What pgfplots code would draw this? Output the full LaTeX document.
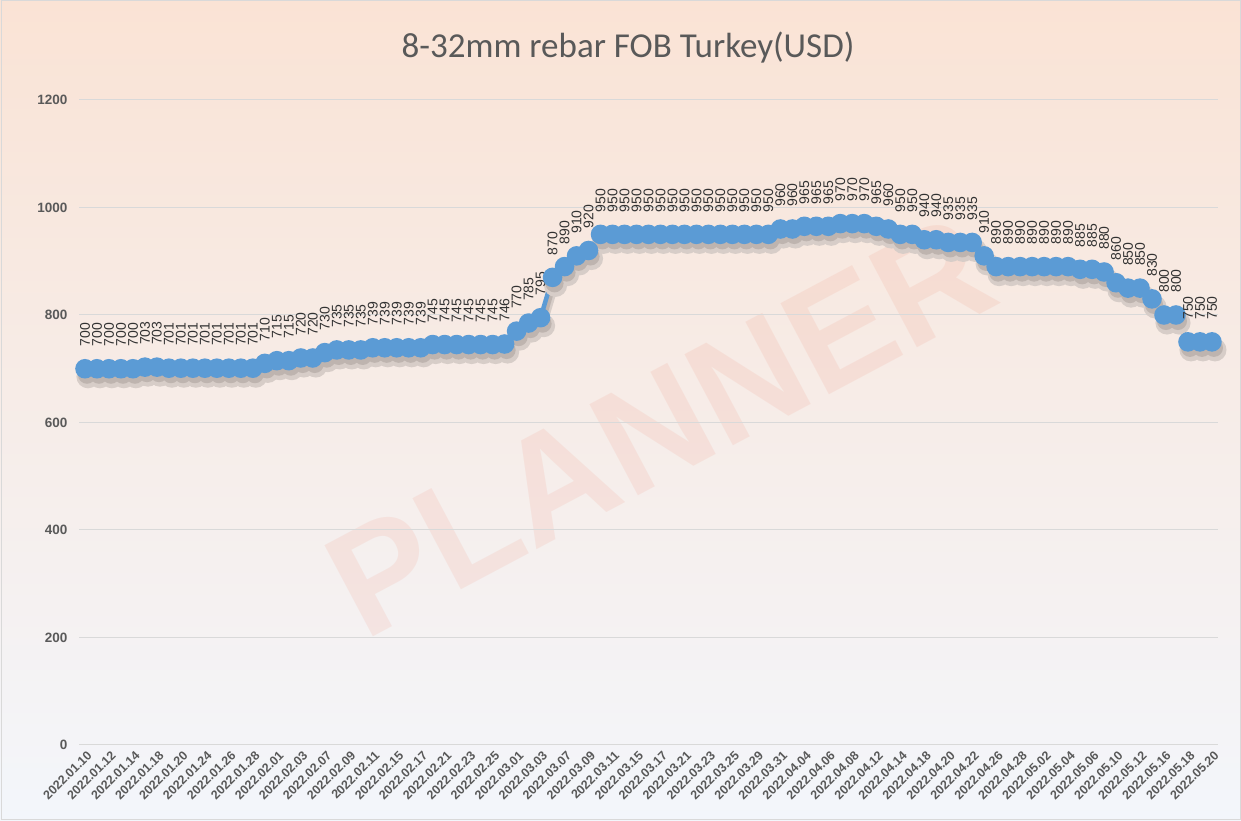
\documentclass[border=0pt]{standalone}
\usepackage{fontspec}
\setmainfont{Liberation Sans}
\newfontfamily\titlefont{Carlito}
\usepackage{pgfplots}
\pgfplotsset{compat=1.18}
\usepackage{pgfplotstable}

\definecolor{txt}{RGB}{89,89,89}
\definecolor{lab}{RGB}{50,50,50}
\definecolor{ser}{RGB}{91,155,213}
\definecolor{gridc}{RGB}{217,217,217}
\definecolor{bgtop}{RGB}{250,227,213}
\definecolor{bgmid}{RGB}{250,237,232}
\definecolor{bgbot}{RGB}{243,246,251}
\definecolor{shad}{RGB}{190,180,175}
\definecolor{shad2}{RGB}{215,205,200}
\definecolor{wm}{RGB}{235,90,60}

\pgfplotstableread{
x y
0 700
1 700
2 700
3 700
4 700
5 703
6 703
7 701
8 701
9 701
10 701
11 701
12 701
13 701
14 701
15 710
16 715
17 715
18 720
19 720
20 730
21 735
22 735
23 735
24 739
25 739
26 739
27 739
28 739
29 745
30 745
31 745
32 745
33 745
34 745
35 746
36 770
37 785
38 795
39 870
40 890
41 910
42 920
43 950
44 950
45 950
46 950
47 950
48 950
49 950
50 950
51 950
52 950
53 950
54 950
55 950
56 950
57 950
58 960
59 960
60 965
61 965
62 965
63 970
64 970
65 970
66 965
67 960
68 950
69 950
70 940
71 940
72 935
73 935
74 935
75 910
76 890
77 890
78 890
79 890
80 890
81 890
82 890
83 885
84 885
85 880
86 860
87 850
88 850
89 830
90 800
91 800
92 750
93 750
94 750
}\data

\begin{document}
\begin{tikzpicture}[x=1pt,y=1pt]
\shade[top color=bgtop, middle color=bgmid, bottom color=bgbot] (0,0) rectangle (1241,821);
\draw[gridc, line width=1pt] (1,1) rectangle (1240,820);
\node[rotate=28, opacity=0.09, text=wm, font=\bfseries\fontsize{150}{150}\selectfont] at (660,395) {PLANNER};
\begin{axis}[
  at={(79pt,76pt)}, anchor=south west,
  scale only axis, width=1139pt, height=645pt,
  xmin=-0.5, xmax=94.5, ymin=0, ymax=1200,
  axis line style={draw=none}, major tick length=0pt,
  ytick={0,200,...,1200},
  ymajorgrids, grid style={gridc, line width=1pt},
  /pgf/number format/assume math mode=true,
  /pgf/number format/1000 sep={},
  yticklabel style={font=\bfseries\fontsize{13.5}{15}\selectfont, text=txt, xshift=-8pt},
  xtick={0,2,...,94},
  xticklabels={2022.01.10,2022.01.12,2022.01.14,2022.01.18,2022.01.20,2022.01.24,2022.01.26,2022.01.28,2022.02.01,2022.02.03,2022.02.07,2022.02.09,2022.02.11,2022.02.15,2022.02.17,2022.02.21,2022.02.23,2022.02.25,2022.03.01,2022.03.03,2022.03.07,2022.03.09,2022.03.11,2022.03.15,2022.03.17,2022.03.21,2022.03.23,2022.03.25,2022.03.29,2022.03.31,2022.04.04,2022.04.06,2022.04.08,2022.04.12,2022.04.14,2022.04.18,2022.04.20,2022.04.22,2022.04.26,2022.04.28,2022.05.02,2022.05.04,2022.05.06,2022.05.10,2022.05.12,2022.05.16,2022.05.18,2022.05.20},
  xticklabel style={font=\bfseries\fontsize{12.5}{13}\selectfont, text=txt, rotate=45, anchor=north east, xshift=1pt, yshift=-1pt},
  clip=false,
]
\addplot[shad2, line width=6pt, mark=*, mark size=8.5pt, mark options={fill=shad2, draw=none}, xshift=3pt, yshift=-8pt, forget plot] table[x=x,y=y] {\data};
\addplot[shad, line width=4pt, mark=*, mark size=7pt, mark options={fill=shad, draw=none}, xshift=2pt, yshift=-6pt, forget plot] table[x=x,y=y] {\data};
\addplot[ser, line width=4.5pt, mark=*, mark size=7.5pt, mark options={fill=ser, draw=none},
  nodes near coords,
  every node near coord/.append style={font=\fontsize{14}{14}\selectfont, text=lab, anchor=west, rotate=90, inner xsep=0pt, xshift=20pt}]
  table[x=x,y=y] {\data};
\end{axis}
\node[font=\titlefont\fontsize{35}{37}\selectfont, text=txt] at (628,773) {8-32mm rebar FOB Turkey(USD)};
\pgfresetboundingbox
\path (0,0) rectangle (1241,821);
\end{tikzpicture}
\end{document}
